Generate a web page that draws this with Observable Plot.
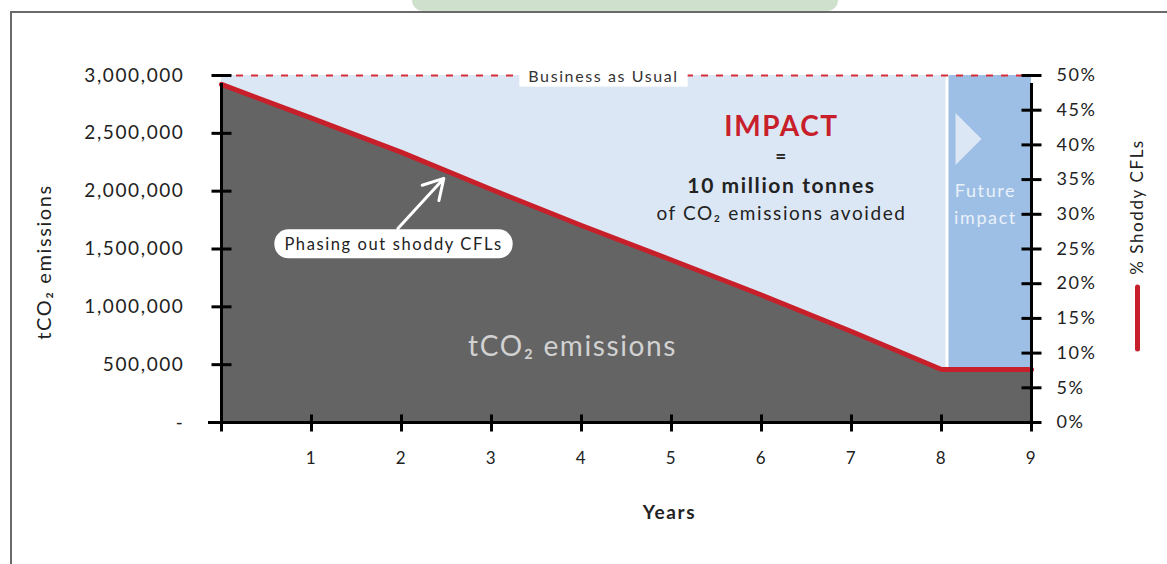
<!DOCTYPE html>
<html><head><meta charset="utf-8">
<script src="https://cdn.jsdelivr.net/npm/d3@7"></script>
<script src="https://cdn.jsdelivr.net/npm/@observablehq/plot@0.6"></script>
<style>
body{margin:0;background:#fff;overflow:hidden;}
#wrap{position:relative;width:1167px;height:564px;overflow:hidden;}
#frame{position:absolute;left:10px;top:11px;width:1300px;height:700px;border:2px solid #6a6a6a;box-sizing:border-box;}
#hl{position:absolute;left:412px;top:0;width:426px;height:11px;background:#cfe0cc;border-radius:0 0 14px 14px;}
#chart{position:absolute;left:0;top:0;}
#chart svg text{letter-spacing:1.6px;}
</style></head><body>
<div id="wrap"><div id="hl"></div><div id="frame"></div><div id="chart"></div></div>
<script>
// ---- data ----
const years = [0, 1, 2, 3, 4, 5, 6, 7, 8, 9];
const emissions = [2923000, 2632000, 2335000, 2014000, 1703000, 1405000, 1102000, 787000, 458000, 458000];
const businessAsUsual = 3000000;
const phaseOutEnd = 8;
const yTicks = [0, 500000, 1000000, 1500000, 2000000, 2500000, 3000000];
const yTickLabels = ["-", "500,000", "1,000,000", "1,500,000", "2,000,000", "2,500,000", "3,000,000"];
const xTicks = [1, 2, 3, 4, 5, 6, 7, 8, 9];
const pctTicks = [0, 5, 10, 15, 20, 25, 30, 35, 40, 45, 50];
const pctMax = 50;

const data = years.map((year, i) => ({year, value: emissions[i]}));
const future = data.filter(d => d.year >= phaseOutEnd);
const pctToY = p => p / pctMax * businessAsUsual;

const RED = "#c8202a", GRAY = "#646464", LIGHT = "#dce7f5", DARK = "#9ebfe5", INK = "#222";
const FONT = "Lato, 'Open Sans', sans-serif";

const hline = {draw(c) { c.moveTo(-10, 0); c.lineTo(10, 0); }};
const vline = {draw(c) { c.moveTo(0, -8); c.lineTo(0, 9); }};
const legendLine = {draw(c) { c.moveTo(0, -31); c.lineTo(0, 31); }};
const tri = {draw(c) { c.moveTo(-13, -26); c.lineTo(13, 0); c.lineTo(-13, 26); c.closePath(); }};

const chart = Plot.plot({
  width: 1167, height: 564,
  marginLeft: 221, marginRight: 136, marginTop: 75, marginBottom: 142,
  style: {fontFamily: FONT, color: INK, background: "transparent", overflow: "visible"},
  x: {domain: [0, 9]},
  y: {domain: [0, businessAsUsual]},
  marks: [
    Plot.areaY(data, {x: "year", y1: 0, y2: "value", fill: GRAY}),
    Plot.areaY(data, {x: "year", y1: "value", y2: businessAsUsual, fill: LIGHT}),
    Plot.areaY(future, {x: "year", y1: "value", y2: businessAsUsual, fill: DARK, dx: 7, clip: true}),
    Plot.ruleX([phaseOutEnd], {y1: emissions[years.indexOf(phaseOutEnd)], y2: businessAsUsual, dx: 5.5, stroke: "#fff", strokeWidth: 3}),
    Plot.ruleY([businessAsUsual], {stroke: "#d62f38", strokeWidth: 2, strokeDasharray: "7,8"}),
    Plot.line(data, {x: "year", y: "value", stroke: RED, strokeWidth: 5}),
    // axis lines and crossing ticks
    Plot.ruleX([0, 9], {y1: 0, y2: businessAsUsual, stroke: "#000", strokeWidth: 3, insetBottom: -8}),
    Plot.ruleY([0], {stroke: "#000", strokeWidth: 3, insetLeft: -13, insetRight: -5}),
    Plot.dot(yTicks, {x: 0, y: d => d, symbol: hline, fill: "none", stroke: "#000", strokeWidth: 3}),
    Plot.dot(pctTicks, {x: 9, y: pctToY, symbol: hline, fill: "none", stroke: "#000", strokeWidth: 3}),
    Plot.dot([0, ...xTicks], {x: d => d, y: 0, symbol: vline, fill: "none", stroke: "#000", strokeWidth: 3}),
    // tick labels
    Plot.axisY({ticks: yTicks, tickSize: 0, tickPadding: 37, fontSize: 19, label: null,
      tickFormat: d => yTickLabels[yTicks.indexOf(d)]}),
    Plot.axisY({anchor: "right", ticks: pctTicks.map(pctToY), tickSize: 0, tickPadding: 25, fontSize: 18, label: null,
      tickFormat: d => Math.round(d / businessAsUsual * pctMax) + "%"}),
    Plot.axisX({ticks: xTicks, tickSize: 0, tickPadding: 29, fontSize: 17, label: null}),
    // axis titles
    Plot.text(["tCO₂ emissions"], {frameAnchor: "left", dx: -177, dy: 13, rotate: -90, text: d => d, fontSize: 20, textAnchor: "middle", lineAnchor: "middle", fill: INK}),
    Plot.text(["% Shoddy CFLs"], {frameAnchor: "right", dx: 106, dy: -42, rotate: -90, text: d => d, fontSize: 17, textAnchor: "middle", lineAnchor: "middle", fill: INK}),
    Plot.dot([0], {frameAnchor: "right", dx: 106, dy: 69, symbol: legendLine, fill: "none", stroke: RED, strokeWidth: 5, strokeLinecap: "round"}),
    Plot.text(["Years"], {frameAnchor: "bottom", dx: 43, dy: 90, text: d => d, fontSize: 19, fontWeight: "bold", lineAnchor: "middle", fill: INK}),
    // annotations
    Plot.text(["Business as Usual"], {frameAnchor: "top", dx: -23, dy: 1, text: d => d, fontSize: 16, fill: "#333", lineAnchor: "middle"}),
    Plot.text(["IMPACT"], {frameAnchor: "top", dx: 155, dy: 52, text: d => d, fontSize: 28, fontWeight: "bold", fill: RED, lineAnchor: "middle"}),
    Plot.text(["="], {frameAnchor: "top", dx: 155, dy: 81, text: d => d, fontSize: 19, fontWeight: "bold", fill: INK, lineAnchor: "middle"}),
    Plot.text(["10 million tonnes"], {frameAnchor: "top", dx: 155, dy: 111, text: d => d, fontSize: 21, fontWeight: "bold", fill: INK, lineAnchor: "middle"}),
    Plot.text(["of CO₂ emissions avoided"], {frameAnchor: "top", dx: 155, dy: 138, text: d => d, fontSize: 19, fill: INK, lineAnchor: "middle"}),
    Plot.dot([0], {frameAnchor: "right", dx: -63, dy: -110, symbol: tri, fill: LIGHT, stroke: "none"}),
    Plot.text(["Future"], {frameAnchor: "right", dx: -46, dy: -58, text: d => d, fontSize: 18, fill: "#eaf1fa", lineAnchor: "middle", textAnchor: "middle"}),
    Plot.text(["impact"], {frameAnchor: "right", dx: -46, dy: -31, text: d => d, fontSize: 18, fill: "#eaf1fa", lineAnchor: "middle", textAnchor: "middle"}),
    Plot.text(["tCO₂ emissions"], {frameAnchor: "top-left", dx: 351, dy: 272, text: d => d, fontSize: 28, fill: "#d2d2d2", textAnchor: "middle", lineAnchor: "middle"}),
    Plot.arrow([0], {x1: 1.96, y1: 1677000, x2: 2.47, y2: 2110000, stroke: "#fff", strokeWidth: 3, headLength: 14}),
    Plot.text(["Phasing out shoddy CFLs"], {frameAnchor: "top-left", dx: 172, dy: 169, text: d => d, fontSize: 16.5, fill: "#222", textAnchor: "middle", lineAnchor: "middle"})
  ]
});
document.getElementById("chart").append(chart);

// white boxes behind labels
const boxes = {"Business as Usual": {px: 9, py: 2, rx: 0}, "Phasing out shoddy CFLs": {px: 10, py: 4.5, rx: 14}};
d3.select(chart).selectAll("text").each(function() {
  const spec = boxes[this.textContent];
  if (!spec) return;
  const b = this.getBBox();
  const r = document.createElementNS("http://www.w3.org/2000/svg", "rect");
  r.setAttribute("x", b.x - spec.px);
  r.setAttribute("y", b.y - spec.py);
  r.setAttribute("width", b.width + 2 * spec.px);
  r.setAttribute("height", b.height + 2 * spec.py);
  r.setAttribute("rx", spec.rx);
  r.setAttribute("fill", "#fff");
  if (this.getAttribute("transform")) r.setAttribute("transform", this.getAttribute("transform"));
  this.parentNode.insertBefore(r, this);
});
</script>
</body></html>
